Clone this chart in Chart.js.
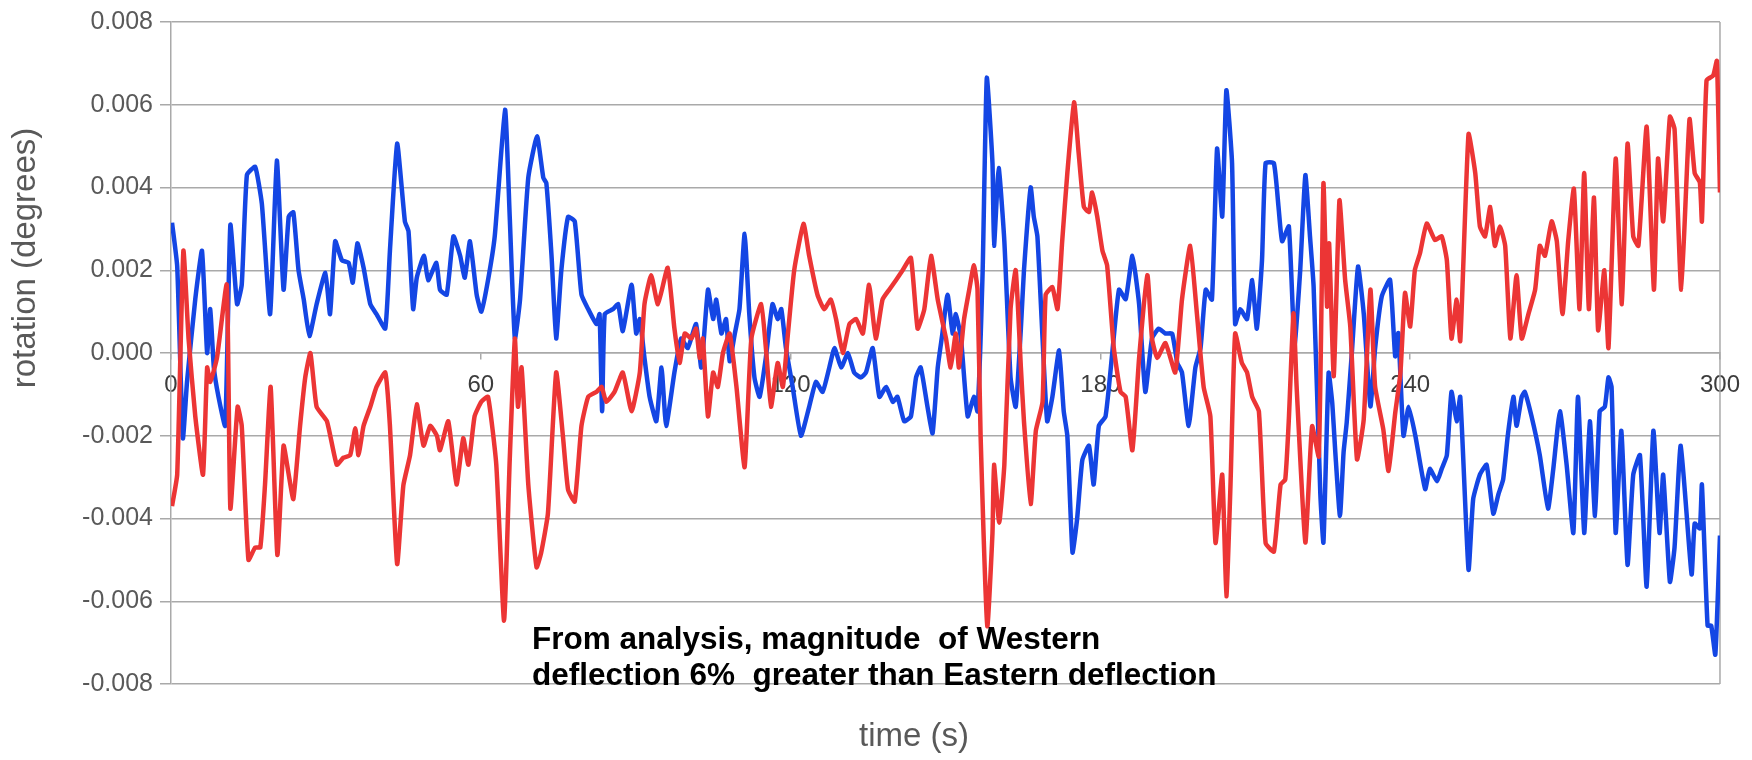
<!DOCTYPE html>
<html>
<head>
<meta charset="utf-8">
<title>rotation vs time</title>
<script src="https://cdn.jsdelivr.net/npm/chart.js@4.4.1/dist/chart.umd.min.js"></script>
<style>
  html, body { margin: 0; padding: 0; background: #fff; }
  #wrap { width: 1752px; height: 760px; }
</style>
</head>
<body>
<div id="wrap"><canvas id="rotation-chart"></canvas></div>
<script>
// blue trace (time in s, rotation in degrees)
const blueTimes = [
  0.2,1.2,2.3,3.1,4.7,6.0,7.0,7.6,8.3,9.2,
  10.5,11.5,12.8,13.7,14.7,16.3,17.6,19.2,20.5,21.8,
  22.8,23.7,24.7,25.7,26.8,28.2,29.9,30.8,31.8,33.1,
  34.4,35.2,36.1,37.3,38.6,39.8,41.5,42.4,43.8,45.3,
  46.0,46.9,47.6,49.0,49.8,51.4,52.1,53.4,54.7,56.0,
  56.9,57.9,59.2,60.1,61.4,62.7,64.7,65.6,66.6,67.6,
  69.2,70.9,72.1,72.7,73.7,74.6,75.6,76.9,78.2,79.5,
  80.8,82.4,83.0,83.5,84.0,85.6,86.6,87.5,89.2,90.1,
  90.8,91.7,92.7,94.0,95.0,95.9,97.5,98.8,100.1,101.7,
  102.7,104.0,105.0,105.6,106.6,107.5,108.2,109.2,110.1,111.1,
  112.0,113.0,114.0,115.2,116.5,117.5,118.2,119.1,120.4,122.0,
  123.6,124.9,126.2,127.5,128.5,129.8,131.1,132.3,133.6,134.6,
  135.9,137.2,138.5,139.8,140.7,142.0,143.3,144.3,145.2,146.5,
  147.5,148.5,149.4,150.4,151.4,152.0,153.0,154.3,155.5,156.2,
  157.2,158.0,159.1,159.4,160.3,161.4,162.6,163.6,164.6,165.2,
  166.5,167.1,167.8,168.8,169.7,170.7,172.0,172.9,173.6,174.6,
  175.5,176.5,177.8,178.7,179.7,181.0,182.3,183.6,184.9,186.2,
  187.5,188.7,190.0,191.3,192.6,193.9,194.9,195.8,197.1,198.4,
  199.4,200.4,201.6,202.6,203.6,204.4,205.5,206.1,207.1,208.4,
  209.4,210.3,211.3,212.0,213.6,214.5,215.2,216.5,217.6,218.7,
  219.7,220.6,221.3,222.6,223.2,224.2,224.9,225.5,226.4,227.1,
  227.7,228.7,229.9,231.0,232.3,233.2,234.5,236.1,237.1,237.7,
  238.7,239.7,241.0,242.9,243.8,245.2,246.1,247.1,248.0,249.0,
  249.7,251.3,252.2,253.5,254.8,256.1,257.1,258.0,258.9,260.0,
  260.6,261.6,262.2,263.5,265.1,266.7,267.7,269.0,270.3,271.6,
  272.5,273.7,274.8,275.8,276.7,277.7,278.4,279.0,279.8,280.9,
  282.1,283.2,284.5,285.8,287.1,288.3,289.0,290.3,291.2,292.4,
  294.5,295.1,296.1,296.5,297.6,298.3,299.1,300.0
];
const blueValues = [
  0.00315,0.0021,-0.00206,-0.0007,0.0013,0.00247,0,0.00106,-0.00035,-0.00106,
  -0.00176,0.0031,0.00118,0.00165,0.0043,0.0045,0.0036,0.00094,0.00465,0.00153,
  0.0033,0.0034,0.002,0.0013,0.00041,0.00118,0.00194,0.00094,0.0027,0.00224,
  0.00218,0.0017,0.00265,0.00206,0.00118,0.00094,0.00059,0.00247,0.00506,0.00318,
  0.00294,0.00106,0.00182,0.00235,0.00176,0.00218,0.00153,0.00141,0.00282,0.00235,
  0.00182,0.0027,0.00141,0.001,0.00176,0.00282,0.00588,0.0033,0.00035,0.00129,
  0.00424,0.00524,0.00424,0.0041,0.00235,0.00035,0.002,0.00329,0.00318,0.00141,
  0.00106,0.0007,0.00094,-0.00141,0.00094,0.00106,0.00118,0.00053,0.00165,0.00047,
  0.00082,-0.00012,-0.00106,-0.00165,-0.00035,-0.00176,-0.00047,0.00035,0.00012,0.0007,
  -0.00035,0.00153,0.00082,0.00129,0.00047,0.00082,-0.0002,0.00047,0.00106,0.00288,
  0.00094,-0.00059,-0.00106,-0.00012,0.00118,0.00082,0.00106,0.00012,-0.00082,-0.002,
  -0.0013,-0.0007,-0.00094,-0.00035,0.00012,-0.00035,0,-0.00047,-0.00059,-0.00047,
  0.00012,-0.00106,-0.00082,-0.00118,-0.00106,-0.00165,-0.00153,-0.00059,-0.00035,-0.00129,
  -0.00194,-0.00035,0.00047,0.00141,0.00047,0.00094,0.00035,-0.00153,-0.00106,-0.00141,
  0.002,0.00665,0.00459,0.00259,0.00447,0.0027,-0.00059,-0.0013,0.00059,0.002,
  0.004,0.0033,0.00282,0.00035,-0.00165,-0.00106,0.00006,-0.00141,-0.002,-0.00482,
  -0.004,-0.00259,-0.00224,-0.00318,-0.00176,-0.00153,0,0.00153,0.0013,0.00235,
  0.00118,-0.00094,0.00035,0.00059,0.00047,0.00047,-0.00024,-0.00047,-0.00176,-0.00035,
  0.00012,0.00153,0.00129,0.00494,0.0033,0.00635,0.00459,0.0007,0.00106,0.00082,
  0.00176,0.00059,0.00224,0.00459,0.00459,0.00353,0.0027,0.00306,0.0002,0.002,
  0.0043,0.00281,0.0016,-0.00341,-0.00458,-0.00048,-0.0012,-0.0024,-0.00394,-0.0024,
  -0.00169,0,0.00209,0.00096,-0.00129,0.0001,0.00137,0.00177,-0.00008,0.00048,
  -0.002,-0.0013,-0.002,-0.00329,-0.0028,-0.0031,-0.0028,-0.00247,-0.00094,-0.00165,
  -0.00106,-0.00524,-0.00353,-0.00294,-0.0027,-0.00388,-0.00341,-0.00306,-0.002,-0.00106,
  -0.00176,-0.00106,-0.00094,-0.00153,-0.00247,-0.00376,-0.00282,-0.00141,-0.0027,-0.00435,
  -0.00106,-0.00435,-0.00165,-0.00394,-0.00141,-0.0013,-0.00059,-0.00082,-0.00435,-0.00188,
  -0.00512,-0.00294,-0.00247,-0.00565,-0.00188,-0.00435,-0.00294,-0.00553,-0.0047,-0.00224,
  -0.00535,-0.00412,-0.00424,-0.00318,-0.00659,-0.00659,-0.00729,-0.00441
];

// red trace
const redTimes = [
  0.2,1.2,2.4,3.4,4.7,6.2,7.0,7.6,8.9,10.8,
  11.5,12.9,13.7,15.0,16.3,17.3,18.2,19.3,20.6,21.8,
  22.8,23.7,25.0,26.0,27.0,28.2,30.2,32.1,33.4,34.7,
  35.7,36.3,37.3,38.6,39.8,41.5,42.4,43.8,45.0,46.3,
  47.6,48.9,50.2,51.5,52.1,53.7,55.3,56.6,57.6,58.8,
  60.1,61.4,63.0,64.5,65.6,66.6,67.2,67.9,69.2,70.8,
  71.7,73.0,74.6,75.9,76.9,78.2,79.5,80.8,82.4,83.4,
  84.3,85.9,87.5,89.2,90.8,91.7,93.0,94.3,96.2,97.5,
  98.5,99.5,100.8,101.7,102.4,103.0,104.0,105.0,105.9,106.9,
  108.2,109.5,111.1,112.4,114.3,115.3,116.2,117.5,118.5,119.4,
  120.7,122.5,123.6,125.2,126.5,127.8,128.8,130.1,131.4,132.7,
  134.0,135.2,136.5,137.8,139.1,140.4,141.7,143.3,144.6,145.9,
  147.2,148.5,150.1,151.0,152.0,152.6,153.6,154.6,155.5,156.2,
  156.8,158.1,159.1,159.4,160.4,161.4,162.6,163.6,164.6,165.2,
  166.5,167.5,168.8,169.4,170.7,171.7,172.6,173.6,174.9,175.8,
  176.8,177.8,178.4,179.4,180.4,181.3,182.6,183.9,184.9,186.2,
  187.5,189.1,190.0,191.0,192.6,194.5,195.8,197.4,198.7,200.0,
  201.3,202.3,203.6,204.4,205.2,206.1,207.4,208.4,209.4,210.7,
  212.0,213.6,214.9,215.8,216.5,217.4,218.0,219.7,221.0,222.3,
  223.2,223.9,224.3,225.2,226.3,227.4,228.4,229.7,231.0,232.3,
  233.2,234.8,235.8,237.1,238.1,239.0,240.0,240.9,241.9,243.2,
  244.8,246.1,247.1,248.0,249.0,249.7,251.3,252.6,253.5,254.5,
  255.5,256.4,257.4,258.4,259.4,260.6,261.6,262.9,264.2,265.1,
  266.1,267.4,268.4,269.5,270.6,271.7,272.8,273.7,274.6,275.6,
  276.4,277.6,278.4,279.8,281.0,282.1,283.2,284.2,285.8,287.2,
  288.0,289.0,290.3,291.2,292.5,294.1,295.1,296.1,296.5,297.4,
  298.7,299.4,300.0
];
const redValues = [
  -0.0037,-0.00294,0.00247,0.00035,-0.00153,-0.00294,-0.00035,-0.0007,-0.00012,0.00165,
  -0.00376,-0.0013,-0.00176,-0.005,-0.0047,-0.0047,-0.0032,-0.00082,-0.00488,-0.00224,
  -0.00294,-0.00353,-0.00176,-0.00059,0,-0.0013,-0.00165,-0.0027,-0.00253,-0.00247,
  -0.00182,-0.00247,-0.00176,-0.0013,-0.00082,-0.00047,-0.00176,-0.0051,-0.0032,-0.00247,
  -0.00124,-0.00224,-0.00176,-0.002,-0.00235,-0.00165,-0.00318,-0.00206,-0.0027,-0.00153,
  -0.00118,-0.00106,-0.0027,-0.00647,-0.00259,0.00035,-0.0013,-0.00035,-0.00318,-0.00518,
  -0.00482,-0.00388,-0.00047,-0.002,-0.0033,-0.00359,-0.00176,-0.00106,-0.00094,-0.00082,
  -0.00118,-0.00094,-0.00047,-0.00141,-0.00047,0.00118,0.00188,0.00118,0.00206,0.00059,
  -0.00024,0.00047,0.00035,0.00059,-0.00012,0.00035,-0.00153,-0.00047,-0.00082,0,
  0.00047,-0.0008,-0.00276,0.00035,0.00118,0,-0.0013,-0.00024,-0.00082,0.00035,
  0.002,0.00312,0.00235,0.00141,0.00106,0.00129,0.00082,0,0.0007,0.00082,
  0.00047,0.00165,0.00035,0.00129,0.00153,0.00176,0.002,0.0023,0.00059,0.00106,
  0.00235,0.00129,0.00035,-0.00035,0.00047,-0.00035,0.00082,0.00153,0.00212,0.00153,
  -0.002,-0.0066,-0.00435,-0.0027,-0.0041,-0.0027,0.00106,0.002,-0.00035,-0.00165,
  -0.00365,-0.00188,-0.00118,0.00141,0.00159,0.00106,0.0027,0.00435,0.00606,0.00482,
  0.00353,0.00341,0.00388,0.00329,0.00247,0.00212,0.00012,-0.00094,-0.00106,-0.00235,
  -0.00012,0.00188,0.00035,-0.00012,0.00024,-0.00047,0.00129,0.00259,0.00094,-0.00082,
  -0.00153,-0.00459,-0.00294,-0.00588,-0.00318,0.00047,-0.00024,-0.00047,-0.00106,-0.00141,
  -0.00459,-0.0048,-0.00318,-0.00306,-0.0016,0.00096,-0.0008,-0.00458,-0.00177,-0.0025,
  0.0041,0.00112,0.00265,-0.00056,0.00369,0.00177,0.00064,-0.00257,-0.00161,0.00153,
  -0.0008,-0.00185,-0.00285,-0.00145,-0.0005,0.00145,0.00064,0.002,0.00241,0.00313,
  0.00273,0.00282,0.00224,0.00035,0.00129,0.00029,0.00529,0.00435,0.00306,0.00282,
  0.00353,0.00259,0.00306,0.00259,0.00035,0.00188,0.00035,0.00094,0.00153,0.00259,
  0.00235,0.00318,0.0027,0.00094,0.0027,0.00397,0.00106,0.00435,0.00106,0.00376,
  0.00055,0.002,0.00012,0.0047,0.00118,0.00506,0.00282,0.00259,0.00547,0.00153,
  0.0047,0.00318,0.00571,0.00541,0.00153,0.00565,0.00435,0.00412,0.00318,0.00659,
  0.00671,0.00706,0.00388
];

const xTicks = [0, 60, 120, 180, 240, 300];
const yTicks = [-0.008, -0.006, -0.004, -0.002, 0, 0.002, 0.004, 0.006, 0.008];
const yTitle = 'rotation (degrees)';
const xTitle = 'time (s)';
const noteLines = ['From analysis, magnitude  of Western', 'deflection 6%  greater than Eastern deflection'];

const GRID = '#a9a9a9';

const toPoints = (times, values) => times.map((t, i) => ({ x: t, y: values[i] }));

// right-hand frame line, titles and the note
const decorPlugin = {
  id: 'decor',
  beforeDatasetsDraw(chart) {
    const { ctx, chartArea: a } = chart;
    ctx.save();
    ctx.strokeStyle = GRID;
    ctx.lineWidth = 1.5;
    ctx.beginPath();
    ctx.moveTo(a.right, a.top);
    ctx.lineTo(a.right, a.bottom);
    ctx.stroke();
    ctx.restore();
  },
  afterDraw(chart) {
    const { ctx } = chart;
    ctx.save();
    ctx.fillStyle = '#595959';
    ctx.font = '33px "Liberation Sans", Arial, sans-serif';
    ctx.textAlign = 'center';
    ctx.textBaseline = 'middle';
    ctx.fillText(xTitle, 914, 737);

    ctx.translate(26, 258);
    ctx.rotate(-Math.PI / 2);
    ctx.fillText(yTitle, 0, 0);
    ctx.restore();

    ctx.save();
    ctx.fillStyle = '#000';
    ctx.font = 'bold 31.5px "Liberation Sans", Arial, sans-serif';
    ctx.textAlign = 'left';
    ctx.textBaseline = 'alphabetic';
    ctx.fillText(noteLines[0], 532, 649);
    ctx.fillText(noteLines[1], 532, 685);
    ctx.restore();
  }
};

new Chart(document.getElementById('rotation-chart'), {
  type: 'line',
  data: {
    datasets: [{
      data: toPoints(redTimes, redValues),
      borderColor: '#ec3535',
      borderWidth: 4.5,
      pointRadius: 0,
      tension: 0.15
    }, {
      data: toPoints(blueTimes, blueValues),
      borderColor: '#1446e4',
      borderWidth: 4.5,
      pointRadius: 0,
      tension: 0.15
    }]
  },
  options: {
    responsive: true,
    maintainAspectRatio: false,
    animation: false,
    layout: { padding: { left: 0, right: 30, top: 22, bottom: 76 } },
    plugins: {
      legend: { display: false },
      tooltip: { enabled: false }
    },
    scales: {
      x: {
        type: 'linear',
        position: { y: 0 },
        min: 0,
        max: 300,
        afterBuildTicks: s => { s.ticks = xTicks.map(v => ({ value: v })); },
        afterFit: s => { s.height = 0; },
        grid: { drawOnChartArea: false, drawTicks: true, tickLength: 6, color: GRID, lineWidth: 1.5 },
        border: { display: true, color: GRID, width: 1.5 },
        ticks: {
          autoSkip: false,
          maxRotation: 0,
          padding: 12,
          color: '#3c3c3c',
          font: { family: '"Liberation Sans", Arial, sans-serif', size: 24 }
        }
      },
      y: {
        min: -0.008,
        max: 0.008,
        afterBuildTicks: s => { s.ticks = yTicks.map(v => ({ value: v })); },
        afterFit: s => { s.width = 171; },
        grid: { color: GRID, lineWidth: 1.5, tickLength: 11 },
        border: { display: true, color: GRID, width: 1.5 },
        ticks: {
          padding: 7,
          color: '#595959',
          font: { family: '"Liberation Sans", Arial, sans-serif', size: 25 },
          callback: v => v.toFixed(3)
        }
      }
    }
  },
  plugins: [decorPlugin]
});
</script>
</body>
</html>
